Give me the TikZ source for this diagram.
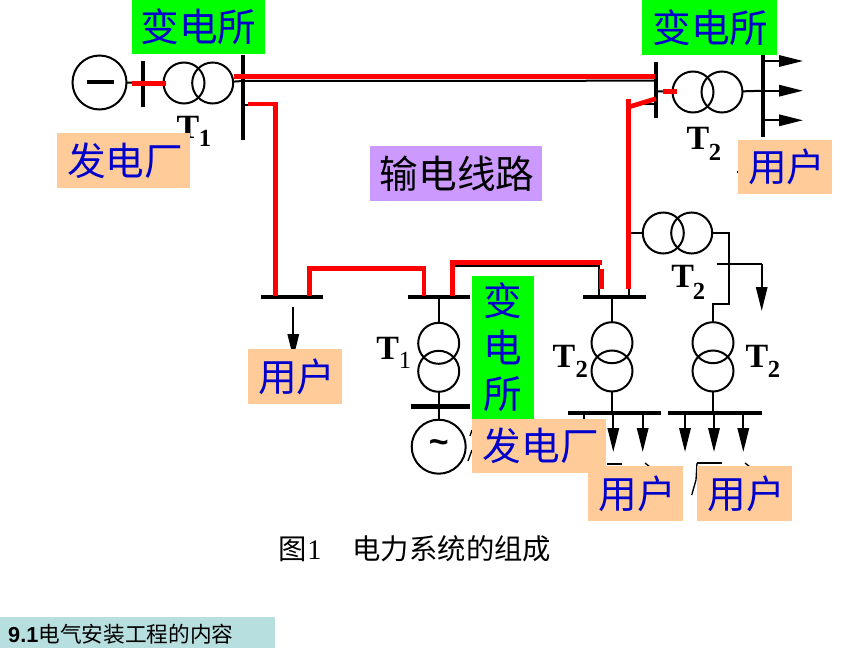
\documentclass[tikz,border=0pt]{standalone}
\usepackage{fontspec}
\setmainfont{Liberation Serif}
\newfontfamily\cjk{Noto Sans CJK SC}
\newfontfamily\band{Liberation Sans}
\usetikzlibrary{arrows.meta}
\definecolor{linered}{HTML}{FF0000}
\definecolor{stationgreen}{HTML}{00FF00}
\definecolor{plantorange}{HTML}{FFCC99}
\definecolor{linepurple}{HTML}{CC99FF}
\definecolor{labelblue}{HTML}{0000CC}
\definecolor{bandteal}{HTML}{B8DFE0}
\tikzset{
  tag/.style={rectangle,inner sep=0pt,outer sep=0pt,align=center,text=labelblue,font=\cjk\fontsize{33}{39.7}\selectfont},
  station/.style={tag,fill=stationgreen},
  plant/.style={tag,fill=plantorange},
  coil/.style={circle,draw=black,line width=0.6mm,minimum size=1.23cm,inner sep=0pt,outer sep=0pt},
  gen/.style={circle,draw=black,line width=0.6mm,minimum size=1.62cm,inner sep=0pt,outer sep=0pt},
  wire/.style={draw=black,line width=0.6mm},
  bus/.style={draw=black,line width=1.3mm},
  redline/.style={draw=linered,line width=1.4mm},
  load/.style={wire,-{Triangle[length=7.2mm,width=3.4mm]}},
  tname/.style={inner sep=0pt,font=\bfseries\fontsize{29}{29}\selectfont},
  tsub/.style={inner sep=0pt,font=\bfseries\fontsize{21}{21}\selectfont}
}
\begin{document}
\begin{tikzpicture}[x=0.3mm,y=-0.3mm]
  \useasboundingbox (0,0) rectangle (865,648);
  % left plant and station
  \node[gen] (g1) at (99.5,82.5) {};
  \node[coil] (t1a) at (184,83) {};
  \node[coil] (t1b) at (212.7,83) {};
  \coordinate (s1) at (242.7,81);
  \coordinate (s1red) at (234,76.3);
  \coordinate (s1low) at (242.7,105);
  \coordinate (s1lowred) at (248,104);
  \coordinate (g1m) at (86.7,82.5);
  \coordinate (g1n) at (114,82.5);
  \draw[bus,line width=1.2mm] (g1m) -- (g1n);
  \draw[wire] (g1) -- (t1a);
  \draw[bus] (142.7,61) -- (142.7,107);
  \draw[bus] (242.7,55) -- (242.7,140);
  \draw[wire] (t1b) -- (s1);
  % right station
  \node[coil] (t2a) at (693,92) {};
  \node[coil] (t2b) at (722,92) {};
  \coordinate (s2) at (656,80.7);
  \coordinate (s2red) at (655,76.3);
  \coordinate (s2mid) at (656,91.3);
  \coordinate (s2low) at (656,104);
  \coordinate (r2) at (637,104);
  \coordinate (out) at (763.3,90.7);
  \draw[bus,line width=1.2mm] (656,62) -- (656,118);
  \draw[bus,line width=1.2mm] (763.3,55) -- (763.3,136.7);
  \draw[wire] (s1) -- (s2);
  \draw[wire] (s2mid) -- (t2a);
  \draw[wire] (t2b) -- (out);
  \draw[wire] (s2low) -- (r2);
  \foreach \y in {61,90.7,120.3}
    \draw[load] (763.3,\y) -- (803,\y);
  % middle buses
  \coordinate (busa1) at (261,297.3);
  \coordinate (busa2) at (323.3,297.3);
  \coordinate (busb1) at (407.7,297.3);
  \coordinate (busb2) at (470,297.3);
  \coordinate (busc1) at (583.3,297.3);
  \coordinate (busc2) at (645.7,297.3);
  \draw[bus] (busa1) -- (busa2);
  \draw[bus] (busb1) -- (busb2);
  \draw[bus] (busc1) -- (busc2);
  \coordinate (a1) at (293.3,307);
  \coordinate (a2) at (293.3,358);
  \draw[load] (a1) -- (a2);
  % lower plant
  \node[coil] (t3a) at (438.7,343.3) {};
  \node[coil] (t3b) at (438.7,371.3) {};
  \node[gen] (g2) at (438.7,446.7) {};
  \node[inner sep=0pt,font=\band\bfseries\fontsize{29}{29}\selectfont] (g2s) at (g2) {\textasciitilde};
  \coordinate (busb) at (438.7,297.3);
  \coordinate (low1) at (410.7,406);
  \coordinate (low2) at (470,406);
  \draw[wire] (busb) -- (t3a);
  \draw[wire] (t3b) -- (g2);
  \draw[bus,line width=1.5mm] (low1) -- (low2);
  % lower right transformers
  \node[coil] (t4a) at (612,342.7) {};
  \node[coil] (t4b) at (612,371) {};
  \node[coil] (t5a) at (713,342.7) {};
  \node[coil] (t5b) at (713,371) {};
  \node[coil] (t6a) at (663.3,233) {};
  \node[coil] (t6b) at (691.7,233) {};
  \coordinate (busc) at (612,297.3);
  \coordinate (d1) at (612,412.7);
  \coordinate (d2) at (713,412.7);
  \coordinate (j1) at (729.3,233);
  \coordinate (j2) at (729.3,304.3);
  \coordinate (j3) at (713,304.3);
  \coordinate (feed) at (628.7,233);
  \coordinate (b1) at (716.7,264);
  \coordinate (b2) at (761.7,264);
  \coordinate (b3) at (761.7,311);
  \draw[wire] (busc) -- (t4a);
  \draw[wire] (t4b) -- (d1);
  \draw[wire,line width=0.8mm] (t5b) -- (d2);
  \draw[wire] (feed) -- (t6a);
  \draw[wire] (t6b) -- (j1) -- (j2) -- (j3) -- (t5a);
  \draw[wire] (b1) -- (b2);
  \draw[load] (b2) -- (b3);
  \draw[bus,line width=1.2mm] (568.3,412.7) -- (660.7,412.7);
  \draw[bus,line width=1.2mm] (668.3,412.7) -- (761.7,412.7);
  \foreach \x in {583.7,613.3,642.7,685,714,743.3}
    \draw[load] (\x,412.7) -- (\x,452);
  % black line under the red one
  \coordinate (k1) at (599,266);
  \coordinate (k2) at (599,297.3);
  \coordinate (k3) at (452.3,266);
  \coordinate (k4) at (628.7,297.3);
  \draw[wire] (k3) -- (k1) -- (k2);
  \draw[wire] (feed) -- (k4);
  \draw[wire] (s1low) -- (275.7,105);
  % transmission lines
  \coordinate (rr1) at (275.7,104);
  \coordinate (rr2) at (275.7,295.7);
  \coordinate (ra1) at (309.7,295.7);
  \coordinate (ra2) at (309.7,268.3);
  \coordinate (ra3) at (424,268.3);
  \coordinate (ra4) at (424,295.7);
  \coordinate (rb1) at (452.3,295.7);
  \coordinate (rb2) at (452.3,262.3);
  \coordinate (rb3) at (602,262.3);
  \coordinate (rc1) at (601.3,269);
  \coordinate (rc2) at (601.3,288.7);
  \coordinate (rd1) at (628.7,289);
  \coordinate (rd2) at (628.7,99);
  \coordinate (rd3) at (628.7,107);
  \coordinate (rd4) at (656,98.7);
  \coordinate (rg1) at (132,83.3);
  \coordinate (rg2) at (166,83.3);
  \coordinate (rt1) at (663,91.3);
  \coordinate (rt2) at (677,91.3);
  \draw[redline] (rg1) -- (rg2);
  \draw[redline] (rt1) -- (rt2);
  \draw[redline] (s1red) -- (s2red);
  \draw[redline] (s1lowred) -- (rr1) -- (rr2);
  \draw[redline] (ra1) -- (ra2) -- (ra3) -- (ra4);
  \draw[redline] (rb1) -- (rb2) -- (rb3);
  \draw[redline] (rc1) -- (rc2);
  \draw[redline] (rd1) -- (rd2);
  \draw[redline] (rd3) -- (rd4);
  % T labels
  \node[tname] (lt1) at (188,127) {T};
  \node[tsub] (ls1) at (205,138) {1};
  \node[tname] (lt2) at (698,138) {T};
  \node[tsub] (ls2) at (715,152) {2};
  \node[tname] (lt3) at (387.7,348) {T};
  \node[tsub,font=\fontsize{21}{21}\selectfont] (ls3) at (405,360.7) {1};
  \node[tname] (lt4) at (564,356) {T};
  \node[tsub] (ls4) at (581.7,369) {2};
  \node[tname] (lt5) at (757,356) {T};
  \node[tsub] (ls5) at (774,369) {2};
  \node[tname] (lt6) at (682.7,276) {T};
  \node[tsub] (ls6) at (699,291) {2};
  % what shows of the covered marks
  \draw[black,line width=0.4mm] (607,464) -- (622,464);
  \draw[black,line width=0.4mm] (645,463) -- (650,467);
  \draw[black,line width=0.4mm] (697,463) -- (696,480) -- (691.7,495);
  \draw[black,line width=0.4mm] (697,463) -- (722,463);
  \draw[black,line width=0.4mm] (745,463) -- (750,467);
  \draw[black,line width=0.4mm] (470,436) -- (472,430);
  \draw[black,line width=0.4mm] (468,461) -- (472,450);
  \draw[black,line width=0.6mm] (737,172) -- (738,172);
  % coloured tags
  \node[station,minimum width=3.99cm,minimum height=1.62cm] (st1) at (198.5,27) {变电所};
  \node[station,minimum width=4.05cm,minimum height=1.65cm] (st2) at (709.5,27.5) {\kern1.5pt 变电所};
  \node[station,minimum width=1.86cm,minimum height=4.29cm] (st3) at (503,347.5) {变\\电\\所};
  \node[plant,minimum width=3.99cm,minimum height=1.65cm] (pl1) at (123.5,160.5) {\kern3pt 发电厂};
  \node[plant,minimum width=4.02cm,minimum height=1.62cm] (pl2) at (539,446) {\kern3pt 发电厂};
  \node[plant,minimum width=2.82cm,minimum height=1.62cm] (us1) at (785,167) {\kern3pt 用户};
  \node[plant,minimum width=2.82cm,minimum height=1.65cm] (us2) at (295,376.5) {\kern3pt 用户};
  \node[plant,minimum width=2.85cm,minimum height=1.65cm] (us3) at (635.5,493.5) {\kern3pt 用户};
  \node[plant,minimum width=2.85cm,minimum height=1.65cm] (us4) at (744.5,493.5) {\kern3pt 用户};
  \node[tag,fill=linepurple,text=black,minimum width=5.16cm,minimum height=1.65cm] (ln) at (456,173.5) {\kern2pt 输电线路};
  % caption and footer
  \node[inner sep=0pt,font=\fontsize{24.2}{24.2}\selectfont] (cap) at (415,549) {{\cjk 图}1\hspace{1.1em}{\cjk 电力系统的组成}};
  \fill[bandteal] (0,617) rectangle (275,648);
  \node[anchor=west,inner sep=0pt,font=\fontsize{18.5}{18.5}\selectfont] (foot) at (8,634) {{\band\bfseries 9.1}{\cjk 电气安装工程的内容}};
\end{tikzpicture}
\end{document}
